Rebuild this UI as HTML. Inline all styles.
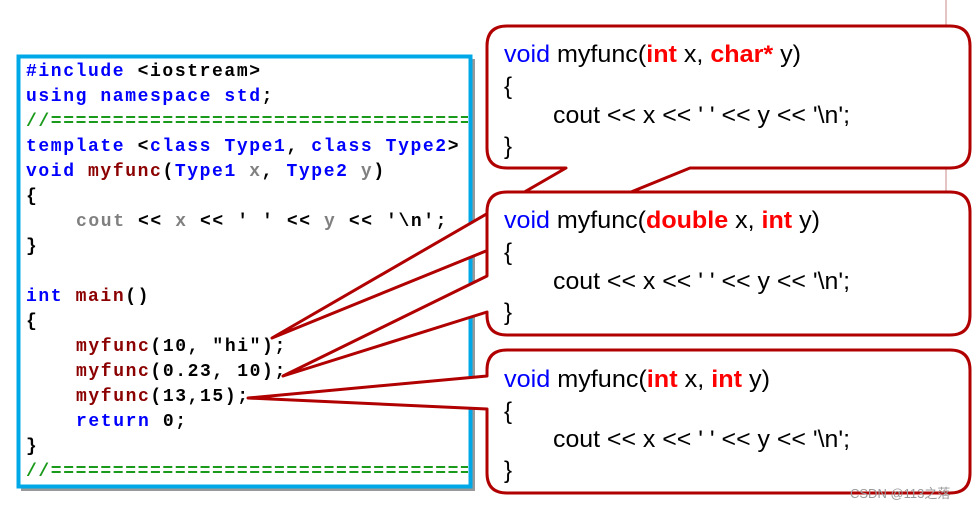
<!DOCTYPE html>
<html><head><meta charset="utf-8"><style>
html,body{margin:0;padding:0;background:#fff;width:978px;height:509px;overflow:hidden}
svg{display:block}
.c{font-family:"Liberation Mono",monospace;font-weight:bold;font-size:18px;letter-spacing:1.6px}
.s{font-family:"Liberation Sans",Arial,sans-serif;font-size:24px;fill:#000}
.b{fill:#00f}.m{fill:#8b0000}.g{fill:#808080}.k{fill:#000}.gr{fill:#1a9a1a}
.r{fill:#f00;font-weight:bold}
</style></head><body>
<svg width="978" height="509" xmlns="http://www.w3.org/2000/svg">
<defs><clipPath id="cb"><rect x="20" y="58" width="448" height="426"/></clipPath></defs>
<line x1="946" y1="0" x2="946" y2="192" stroke="#c88" stroke-width="1"/>
<rect x="21" y="59" width="454" height="432" fill="#999"/>
<rect x="18.5" y="56.5" width="452" height="430" fill="#fff" stroke="#00a8e8" stroke-width="4"/>
<g class="c" clip-path="url(#cb)">
<text x="26" y="76"><tspan class="b">#include</tspan><tspan class="k"> &lt;iostream&gt;</tspan></text>
<text x="26" y="101" class="b">using namespace std<tspan class="k">;</tspan></text>
<text x="26" y="126" class="gr">//====================================</text>
<text x="26" y="151"><tspan class="b">template</tspan><tspan class="k"> &lt;</tspan><tspan class="b">class Type1</tspan><tspan class="k">, </tspan><tspan class="b">class Type2</tspan><tspan class="k">&gt;</tspan></text>
<text x="26" y="176"><tspan class="b">void</tspan> <tspan class="m">myfunc</tspan><tspan class="k">(</tspan><tspan class="b">Type1</tspan> <tspan class="g">x</tspan><tspan class="k">, </tspan><tspan class="b">Type2</tspan> <tspan class="g">y</tspan><tspan class="k">)</tspan></text>
<text x="26" y="201" class="k">{</text>
<text x="76" y="226"><tspan class="g">cout</tspan><tspan class="k"> &lt;&lt; </tspan><tspan class="g">x</tspan><tspan class="k"> &lt;&lt; ' ' &lt;&lt; </tspan><tspan class="g">y</tspan><tspan class="k"> &lt;&lt; '\n';</tspan></text>
<text x="26" y="251" class="k">}</text>
<text x="26" y="301"><tspan class="b">int</tspan> <tspan class="m">main</tspan><tspan class="k">()</tspan></text>
<text x="26" y="326" class="k">{</text>
<text x="76" y="351"><tspan class="m">myfunc</tspan><tspan class="k">(10, "hi");</tspan></text>
<text x="76" y="376"><tspan class="m">myfunc</tspan><tspan class="k">(0.23, 10);</tspan></text>
<text x="76" y="401"><tspan class="m">myfunc</tspan><tspan class="k">(13,15);</tspan></text>
<text x="76" y="426"><tspan class="b">return</tspan><tspan class="k"> 0;</tspan></text>
<text x="26" y="451" class="k">}</text>
<text x="26" y="476" class="gr">//====================================</text>
</g>
<g fill="#fff" stroke="#b00000" stroke-width="3" stroke-linejoin="round">
<path d="M507 26 H950 Q970 26 970 46 V148 Q970 168 950 168 H690 L272 338 L566 168 H507 Q487 168 487 148 V46 Q487 26 507 26 Z"/>
<path d="M507 192 H950 Q970 192 970 212 V315 Q970 335 950 335 H507 Q487 335 487 315 V312 L283 376 L487 276 V212 Q487 192 507 192 Z"/>
<path d="M507 350 H950 Q970 350 970 370 V473 Q970 493 950 493 H507 Q487 493 487 473 V409 L248 398 L487 376 V370 Q487 350 507 350 Z"/>
</g>
<g class="s">
<text x="504" y="62" textLength="297" lengthAdjust="spacingAndGlyphs"><tspan class="b">void</tspan> myfunc(<tspan class="r">int</tspan> x, <tspan class="r">char*</tspan> y)</text>
<text x="504" y="94">{</text>
<text x="553" y="123" textLength="297" lengthAdjust="spacingAndGlyphs">cout &lt;&lt; x &lt;&lt; ' ' &lt;&lt; y &lt;&lt; '\n';</text>
<text x="504" y="154">}</text>
<text x="504" y="228" textLength="316" lengthAdjust="spacingAndGlyphs"><tspan class="b">void</tspan> myfunc(<tspan class="r">double</tspan> x, <tspan class="r">int</tspan> y)</text>
<text x="504" y="260">{</text>
<text x="553" y="289" textLength="297" lengthAdjust="spacingAndGlyphs">cout &lt;&lt; x &lt;&lt; ' ' &lt;&lt; y &lt;&lt; '\n';</text>
<text x="504" y="320">}</text>
<text x="504" y="387" textLength="266" lengthAdjust="spacingAndGlyphs"><tspan class="b">void</tspan> myfunc(<tspan class="r">int</tspan> x, <tspan class="r">int</tspan> y)</text>
<text x="504" y="419">{</text>
<text x="553" y="447" textLength="297" lengthAdjust="spacingAndGlyphs">cout &lt;&lt; x &lt;&lt; ' ' &lt;&lt; y &lt;&lt; '\n';</text>
<text x="504" y="478">}</text>
</g>
<text x="850" y="498" font-family="'Liberation Sans','Noto Sans CJK SC',sans-serif" font-size="13" fill="#999">CSDN @113之落</text>
</svg>
</body></html>
